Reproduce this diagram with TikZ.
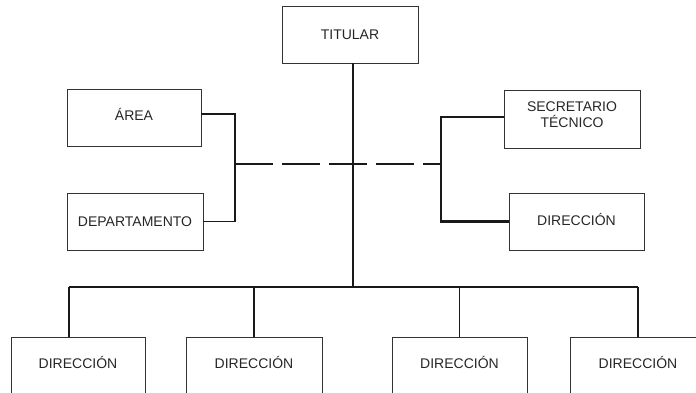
\documentclass[tikz,border=0pt]{standalone}
\usepackage{fontspec}
\setmainfont{Liberation Sans}
\usepackage{tikz}
\usetikzlibrary{calc}

\begin{document}
\begin{tikzpicture}[x=1pt,y=-1pt,
	org_box/.style={rectangle,draw=black!80,line width=0.9pt,text=black!85,minimum width=136pt,minimum height=57pt,inner sep=0pt,font=\fontsize{14}{16}\selectfont,align=center},
	low_box/.style={org_box,text depth=7pt},
	link/.style={draw=black!90,line width=1.8pt}]

		\useasboundingbox (0,0) rectangle (696,393);
		\clip (0,0) rectangle (696,393);

		\node[org_box] (tit) at (350,34.5) {TITULAR};
		\node[org_box,minimum width=134pt,text depth=6pt] (area) at (134,117.5) {ÁREA};
		\node[org_box] (dep) at (135,221.5) {DEPARTAMENTO};
		\node[org_box,minimum height=58pt,text depth=8pt] (sec) at (572,119) {SECRETARIO\\TÉCNICO};
		\node[org_box,minimum width=135pt,text depth=5pt] (dir) at (576.5,221.5) {DIRECCIÓN};
		\node[low_box,minimum width=134pt] (d1) at (78,365.5) {DIRECCIÓN};
		\node[low_box] (d2) at (254,365.5) {DIRECCIÓN};
		\node[low_box,minimum width=135pt] (d3) at (459.5,365.5) {DIRECCIÓN};
		\node[low_box] (d4) at (638,365.5) {DIRECCIÓN};

		\coordinate (trunk) at (353,287);
		\coordinate (busL) at (69,287);
		\coordinate (busR) at (638,287);
		\coordinate (lbr) at (235,164);
		\coordinate (rbr) at (441,164);

		\draw[link] (tit.south -| trunk) -- (trunk);
		\draw[link] (busL) -- (busR);
		\draw[link] (busL) -- (busL |- d1.north);
		\draw[link] (d2.north |- busL) -- (d2.north);
		\draw[link] (d3.north |- busL) -- (d3.north);
		\draw[link] (d4.north |- busL) -- (d4.north);

		\draw[link] ([yshift=3.5pt]area.east) -| (lbr) |- (dep.east);
		\draw[link,line width=1.6pt,dash pattern=on 38pt off 9pt] (lbr) -- (rbr);
		\draw[link] ([yshift=2pt]sec.west) -| (rbr) -- (rbr |- dir.west);
		\draw[link,line width=3.5pt] ([xshift=-0.9pt]rbr |- dir.west) -- (dir.west);
		\end{tikzpicture}
\end{document}
